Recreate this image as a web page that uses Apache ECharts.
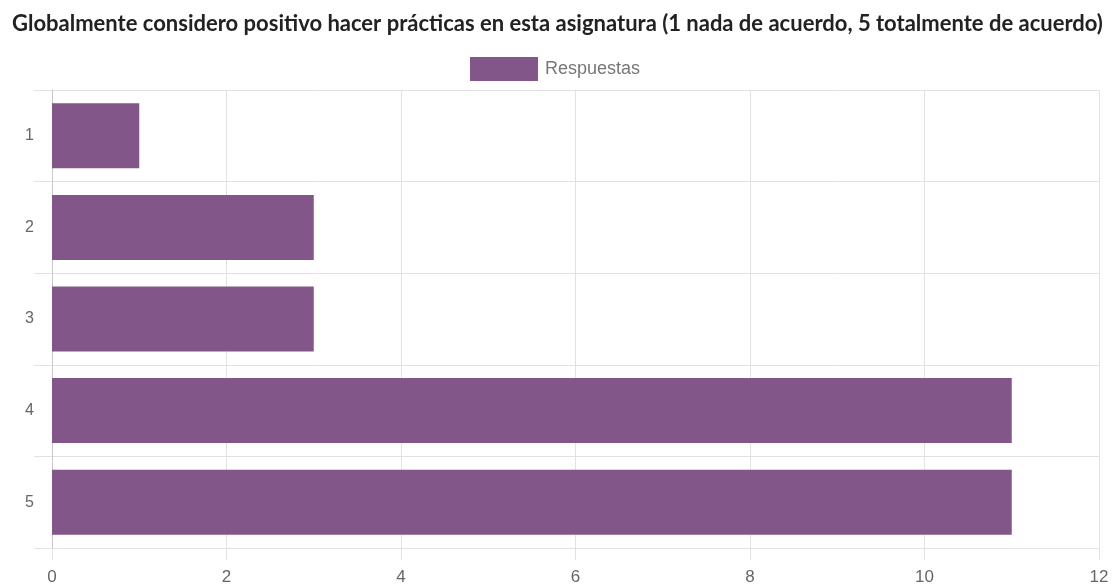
<!DOCTYPE html>
<html>
<head>
<meta charset="utf-8">
<script src="https://cdn.jsdelivr.net/npm/echarts@6/dist/echarts.min.js"></script>
<style>
  html, body { margin: 0; padding: 0; background: #fff; }
  #chart { width: 1116px; height: 586px; }
</style>
</head>
<body>
<div id="chart"></div>
<script>
var categories = ['1', '2', '3', '4', '5'];
var respuestas = [1, 3, 3, 11, 11];
var xTicks = { min: 0, max: 12, interval: 2 };

var chart = echarts.init(document.getElementById('chart'));
var option = {
  animation: false,
  title: {
    text: 'Globalmente considero positivo hacer prácticas en esta asignatura (1 nada de acuerdo, 5 totalmente de acuerdo)',
    left: 7,
    top: 8,
    textStyle: { fontFamily: 'Lato', fontWeight: 'bold', fontSize: 22, color: '#222' }
  },
  legend: {
    data: ['Respuestas'],
    left: 465,
    top: 52,
    icon: 'rect',
    itemWidth: 68,
    itemHeight: 24,
    itemGap: 8,
    textStyle: { fontFamily: 'Liberation Sans', fontSize: 18, color: '#777', padding: [0, 0, 0, 2] }
  },
  grid: { left: 52, right: 17, top: 90, bottom: 38, containLabel: false },
  xAxis: {
    type: 'value',
    min: xTicks.min,
    max: xTicks.max,
    interval: xTicks.interval,
    axisLine: { show: true, lineStyle: { color: '#e2e2e2' } },
    axisTick: { show: true, length: 12, lineStyle: { color: '#e2e2e2' } },
    splitLine: { show: true, lineStyle: { color: '#e2e2e2' } },
    axisLabel: { fontFamily: 'Liberation Sans', fontSize: 17, color: '#666', margin: 21 }
  },
  yAxis: {
    type: 'category',
    inverse: true,
    data: categories,
    axisLine: { show: true, lineStyle: { color: '#c8c8c8' } },
    axisTick: { show: true, length: 18, lineStyle: { color: '#e2e2e2' } },
    splitLine: { show: true, lineStyle: { color: '#e2e2e2' } },
    axisLabel: { fontFamily: 'Liberation Sans', fontSize: 16, color: '#666', margin: 18 }
  },
  series: [{
    name: 'Respuestas',
    type: 'bar',
    data: respuestas,
    barCategoryGap: '29%',
    itemStyle: { color: '#835689' }
  }]
};
chart.setOption(option);
window.addEventListener('resize', chart.resize);
</script>
</body>
</html>
